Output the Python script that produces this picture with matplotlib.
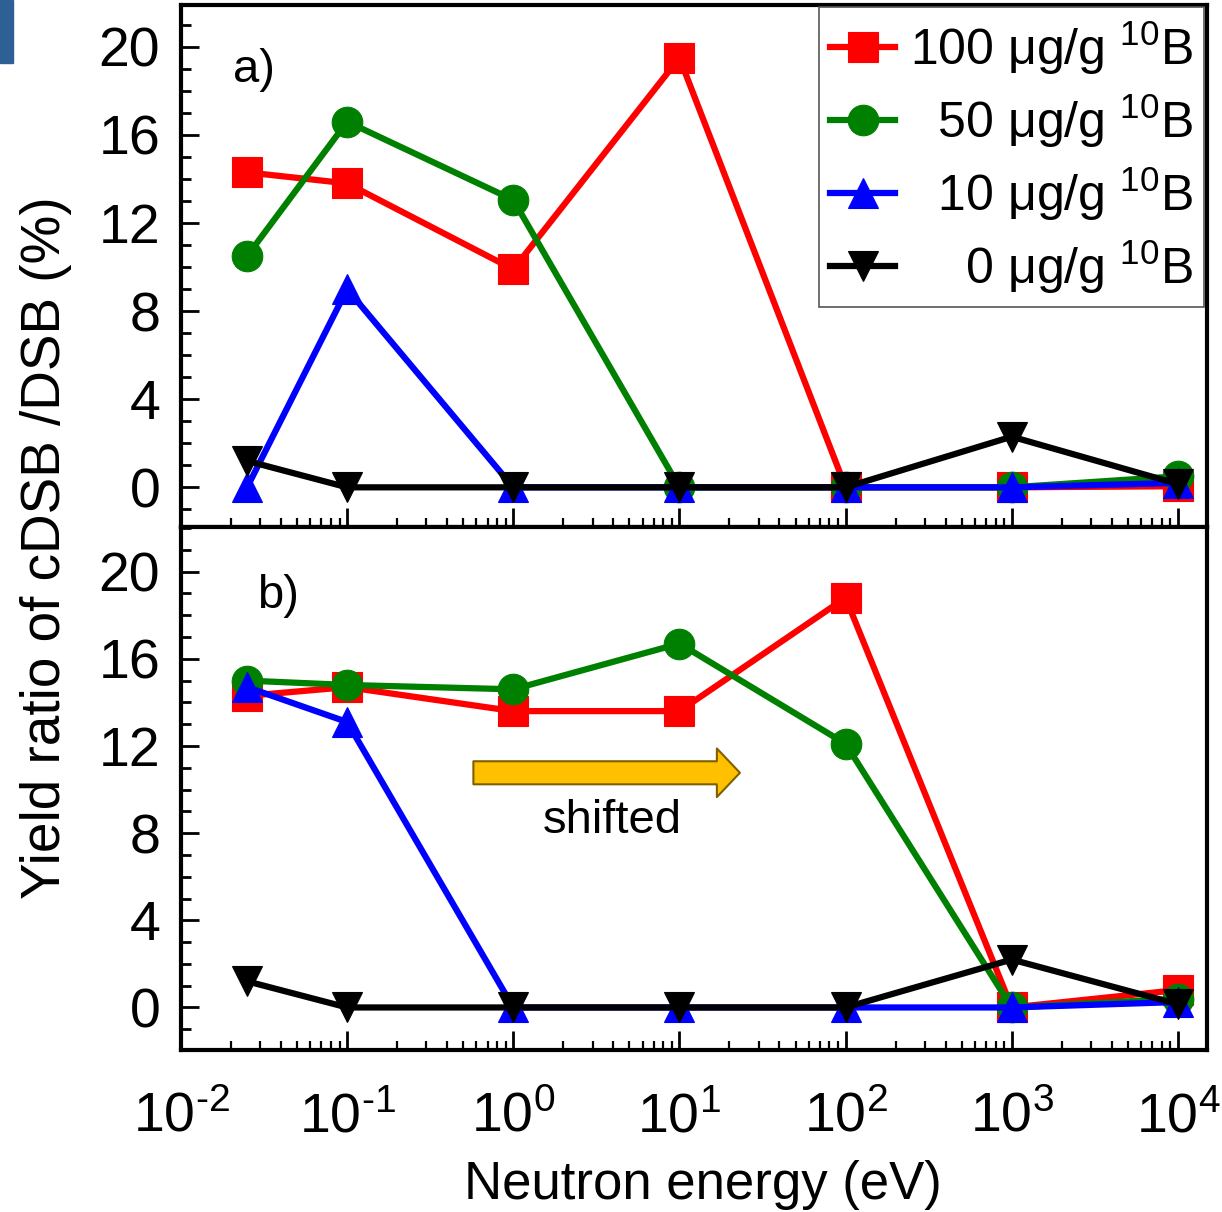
import matplotlib
matplotlib.use("Agg")
import matplotlib.pyplot as plt
from matplotlib.patches import Rectangle
from matplotlib.ticker import FixedLocator, LogLocator, MultipleLocator, FuncFormatter, NullFormatter
import numpy as np

plt.rcParams["font.family"] = ["Liberation Sans", "DejaVu Sans"]
plt.rcParams["mathtext.fontset"] = "custom"
plt.rcParams["mathtext.rm"] = "Liberation Sans"
plt.rcParams["mathtext.it"] = "Liberation Sans:italic"
plt.rcParams["mathtext.bf"] = "Liberation Sans:bold"

# neutron energies (eV)
energy = [0.025, 0.1, 1, 10, 100, 1000, 10000]

# panel a)
a_100 = [14.3, 13.8, 9.9, 19.5, 0.0, 0.0, 0.05]
a_50 = [10.5, 16.6, 13.05, 0.0, 0.0, 0.0, 0.5]
a_10 = [0.0, 9.0, 0.0, 0.0, 0.0, 0.0, 0.2]
a_0 = [1.2, 0.0, 0.0, 0.0, 0.0, 2.3, 0.15]

# panel b)
b_100 = [14.3, 14.7, 13.6, 13.6, 18.8, 0.0, 0.8]
b_50 = [15.0, 14.8, 14.6, 16.7, 12.1, 0.0, 0.4]
b_10 = [14.7, 13.1, 0.0, 0.0, 0.0, 0.0, 0.25]
b_0 = [1.2, 0.0, 0.0, 0.0, 0.0, 2.2, 0.15]

labels = ["100 μg/g $^{10}$B", "  50 μg/g $^{10}$B", "  10 μg/g $^{10}$B", "    0 μg/g $^{10}$B"]
colors = ["#FF0000", "#008000", "#0000FF", "#000000"]
markers = ["s", "o", "^", "v"]

fig = plt.figure(figsize=(12.22, 12.12), dpi=100)
ax1 = fig.add_axes([0.1481, 0.5652, 0.8396, 0.4307])
ax2 = fig.add_axes([0.1481, 0.1337, 0.8396, 0.4315])

# stray blue block in the top-left corner of the source image
fig.patches.append(Rectangle((0, 1 - 63 / 1212), 13 / 1222, 63 / 1212,
                             transform=fig.transFigure, color="#2E6096", zorder=0))


def tick_fmt(v, pos):
    e = int(round(np.log10(v)))
    return r"10$^{\text{%d}}$" % e


for ax, series in [(ax1, [a_100, a_50, a_10, a_0]), (ax2, [b_100, b_50, b_10, b_0])]:
    for ys, c, m, lab in zip(series, colors, markers, labels):
        ax.plot(energy, ys, color=c, marker=m, markersize=22, lw=4.5,
                markeredgewidth=0.8, label=lab)
    ax.set_xscale("log")
    ax.set_xlim(0.01, 10 ** 4.175)
    ax.xaxis.set_major_locator(FixedLocator([10.0 ** k for k in range(-2, 5)]))
    ax.xaxis.set_minor_locator(LogLocator(base=10, subs=np.arange(2, 10), numticks=20))
    ax.xaxis.set_minor_formatter(NullFormatter())
    ax.yaxis.set_major_locator(MultipleLocator(4))
    ax.yaxis.set_minor_locator(MultipleLocator(1))
    ax.tick_params(axis="both", which="major", direction="in", width=2, labelsize=40)
    ax.tick_params(axis="y", which="major", length=13, pad=15)
    ax.tick_params(axis="y", which="minor", direction="in", length=7, width=2)
    ax.tick_params(axis="x", which="major", length=14, pad=30)
    ax.tick_params(axis="x", which="minor", direction="in", length=6.5, width=1.6)
    for sp in ax.spines.values():
        sp.set_linewidth(3)

ax1.set_ylim(-1.8, 21.9)
ax2.set_ylim(-1.95, 22.05)
ax1.xaxis.set_major_formatter(NullFormatter())
ax2.xaxis.set_major_formatter(FuncFormatter(tick_fmt))

ax1.text(0.0506, 0.852, "a)", transform=ax1.transAxes, fontsize=34, va="baseline")
ax2.text(0.074, 0.845, "b)", transform=ax2.transAxes, fontsize=34, va="baseline")

leg = ax1.legend(loc="upper right", fontsize=36, numpoints=1, handlelength=1.3,
                 handletextpad=0.3, labelspacing=0.3, borderpad=0.22,
                 borderaxespad=0.05, fancybox=False, framealpha=1)
leg.get_frame().set_edgecolor("#555555")
leg.get_frame().set_linewidth(1.2)

# shifted arrow
ax2.annotate("", xy=(0.5448, 0.53), xytext=(0.285, 0.53),
             xycoords="axes fraction", textcoords="axes fraction",
             arrowprops=dict(arrowstyle="simple,head_length=1.66,head_width=3.5,tail_width=1.66",
                             mutation_scale=10, fc="#FFC000", ec="#7F6000", lw=1.5,
                             shrinkA=0, shrinkB=0))
ax2.text(0.4206, 0.415, "shifted", transform=ax2.transAxes, fontsize=34,
         ha="center", va="baseline")

fig.text(46 / 1222, 1 - 548 / 1212, "Yield ratio of cDSB /DSB (%)", rotation=90,
         fontsize=39.5, ha="center", va="center")
fig.text(703 / 1222, 1 - 1185 / 1212, "Neutron energy (eV)", fontsize=38,
         ha="center", va="center")

fig.savefig("out.png", dpi=100)
